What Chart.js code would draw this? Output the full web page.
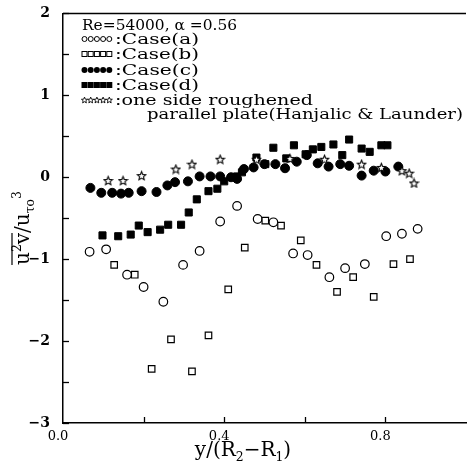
<!DOCTYPE html>
<html>
<head>
<meta charset="utf-8">
<script src="https://cdn.jsdelivr.net/npm/chart.js@4.4.1/dist/chart.umd.min.js"></script>
<style>
  html, body { margin: 0; padding: 0; background: #fff; }
  #wrap { width: 472px; height: 469px; }
</style>
</head>
<body>
<div id="wrap"><canvas id="chart"></canvas></div>
<script>
// data: y/(R2-R1) vs u2v/u_to^3
const caseAX = [0.066, 0.107, 0.159, 0.2, 0.249, 0.298, 0.339, 0.39, 0.432, 0.483, 0.522, 0.571, 0.607, 0.661, 0.70, 0.749, 0.802, 0.841, 0.88];
const caseAY = [-0.91, -0.88, -1.19, -1.34, -1.52, -1.07, -0.90, -0.54, -0.35, -0.51, -0.55, -0.93, -0.95, -1.22, -1.11, -1.06, -0.72, -0.69, -0.63];

const caseBX = [0.127, 0.178, 0.22, 0.268, 0.32, 0.361, 0.41, 0.451, 0.502, 0.541, 0.59, 0.629, 0.68, 0.72, 0.771, 0.82, 0.861];
const caseBY = [-1.07, -1.19, -2.34, -1.98, -2.37, -1.93, -1.37, -0.86, -0.53, -0.59, -0.77, -1.07, -1.40, -1.22, -1.46, -1.06, -1.0];

const caseCX = [0.068, 0.095, 0.122, 0.144, 0.163, 0.195, 0.232, 0.259, 0.278, 0.31, 0.339, 0.366, 0.39, 0.417, 0.432, 0.449, 0.473, 0.50, 0.527, 0.551, 0.58, 0.605, 0.632, 0.659, 0.688, 0.71, 0.741, 0.771, 0.80, 0.832];
const caseCY = [-0.13, -0.19, -0.19, -0.20, -0.19, -0.17, -0.18, -0.10, -0.06, -0.05, 0.01, 0.01, 0.01, 0.0, -0.02, 0.10, 0.12, 0.16, 0.16, 0.11, 0.19, 0.27, 0.17, 0.13, 0.16, 0.14, 0.02, 0.08, 0.07, 0.13];

const caseDX = [0.098, 0.137, 0.168, 0.188, 0.21, 0.241, 0.261, 0.293, 0.312, 0.332, 0.361, 0.383, 0.40, 0.432, 0.444, 0.48, 0.502, 0.522, 0.554, 0.573, 0.602, 0.62, 0.641, 0.671, 0.693, 0.71, 0.741, 0.761, 0.79, 0.805];
const caseDY = [-0.71, -0.72, -0.70, -0.59, -0.67, -0.64, -0.58, -0.58, -0.43, -0.27, -0.17, -0.14, -0.05, 0.01, 0.06, 0.24, 0.16, 0.36, 0.23, 0.39, 0.28, 0.34, 0.37, 0.40, 0.27, 0.46, 0.35, 0.31, 0.39, 0.39];

// Hanjalic & Launder, one side roughened parallel plate
const starX = [0.112, 0.149, 0.195, 0.28, 0.32, 0.39, 0.48, 0.563, 0.649, 0.741, 0.79, 0.841, 0.859, 0.871];
const starY = [-0.04, -0.04, 0.02, 0.10, 0.16, 0.22, 0.22, 0.23, 0.22, 0.16, 0.12, 0.08, 0.05, -0.07];

const xTickLabels = ['0.0', '0.4', '0.8'];
const yTickLabels = ['2', '1', '0', '\u22121', '\u22122', '\u22123'];

const legendHead = 'Re=54000, \u03b1 =0.56';
const legendLabels = [':Case(a)', ':Case(b)', ':Case(c)', ':Case(d)', ':one side roughened'];
const legendTail = 'parallel plate(Hanjalic & Launder)';

const SERIF = '"DejaVu Serif", "Liberation Serif", serif';

function pts(xs, ys) {
    return xs.map((x, i) => ({ x: x, y: ys[i] }));
}

// 5-point star drawn on a small canvas so chart.js can use it as a point style
function starPath(ctx, cx, cy, ro, ri) {
    ctx.beginPath();
    for (let i = 0; i < 10; i++) {
        const r = i % 2 === 0 ? ro : ri;
        const a = -Math.PI / 2 + i * Math.PI / 5;
        const px = cx + r * Math.cos(a), py = cy + r * Math.sin(a);
        if (i === 0) ctx.moveTo(px, py); else ctx.lineTo(px, py);
    }
    ctx.closePath();
}

function makeStar(size) {
    const c = document.createElement('canvas');
    c.width = size; c.height = size;
    const g = c.getContext('2d');
    starPath(g, size / 2, size / 2 + 0.5, size / 2 - 1, (size / 2 - 1) * 0.45);
    g.fillStyle = '#fff';
    g.fill();
    g.lineWidth = 1.1;
    g.strokeStyle = '#000';
    g.stroke();
    return c;
}
const starImg = makeStar(11);

// draws text stretched to a given width (the scan uses a wide typewriter-like serif)
function wideText(ctx, text, x, y, width) {
    const w = ctx.measureText(text).width;
    ctx.save();
    ctx.translate(x, y);
    ctx.scale(width / w, 1);
    ctx.fillText(text, 0, 0);
    ctx.restore();
}

function richText(ctx, parts, x, y, size) {
    // parts: [text, kind] kind: '' normal, 'sup', 'sub'
    let cx = x;
    parts.forEach(p => {
        const small = p[1] !== '';
        ctx.font = (small ? size * 0.62 : size) + 'px ' + SERIF;
        const dy = p[1] === 'sup' ? -size * 0.42 : (p[1] === 'sub' ? size * 0.25 : 0);
        ctx.fillText(p[0], cx, y + dy);
        cx += ctx.measureText(p[0]).width;
    });
    return cx - x;
}

function richWidth(ctx, parts, size) {
    let w = 0;
    parts.forEach(p => {
        ctx.font = (p[1] !== '' ? size * 0.62 : size) + 'px ' + SERIF;
        w += ctx.measureText(p[0]).width;
    });
    return w;
}

const decorPlugin = {
    id: 'decor',
    afterDraw(chart) {
        const ctx = chart.ctx;
        const area = chart.chartArea;
        const xs = chart.scales.x, ys = chart.scales.y;
        ctx.save();
        ctx.strokeStyle = '#000';
        ctx.fillStyle = '#000';

        // top frame line
        ctx.lineWidth = 1.5;
        ctx.beginPath();
        ctx.moveTo(area.left, area.top);
        ctx.lineTo(area.right, area.top);
        ctx.stroke();

        // inward ticks
        ctx.lineWidth = 1.3;
        for (let v = -3; v <= 2.001; v += 0.5) {
            const py = Math.round(ys.getPixelForValue(v)) + 0.5;
            ctx.beginPath();
            ctx.moveTo(area.left, py);
            ctx.lineTo(area.left + 6, py);
            ctx.stroke();
        }
        for (let v = 0.2; v <= 0.801; v += 0.2) {
            const px = Math.round(xs.getPixelForValue(v)) + 0.5;
            ctx.beginPath();
            ctx.moveTo(px, area.bottom);
            ctx.lineTo(px, area.bottom - 6);
            ctx.stroke();
        }

        // legend block
        ctx.textBaseline = 'alphabetic';
        ctx.textAlign = 'left';
        ctx.font = '14px ' + SERIF;
        wideText(ctx, legendHead, 82, 30, 155);
        const rowY = [39, 54, 70, 85, 100];
        rowY.forEach((ry, r) => {
            for (let i = 0; i < 5; i++) {
                const sx = 84.5 + i * 6.2;
                ctx.lineWidth = 1;
                if (r === 0) {
                    ctx.beginPath(); ctx.arc(sx, ry, 2.5, 0, Math.PI * 2); ctx.stroke();
                } else if (r === 1) {
                    ctx.strokeRect(sx - 2.5, ry - 2.5, 5, 5);
                } else if (r === 2) {
                    ctx.beginPath(); ctx.arc(sx, ry, 3, 0, Math.PI * 2); ctx.fill();
                } else if (r === 3) {
                    ctx.fillRect(sx - 3, ry - 3, 6, 6);
                } else {
                    starPath(ctx, sx, ry + 0.3, 3.2, 1.4);
                    ctx.lineWidth = 0.9;
                    ctx.stroke();
                }
            }
            ctx.font = '14px ' + SERIF;
            const target = r === 4 ? 198 : 84;
            wideText(ctx, legendLabels[r], 115, ry + 5, target);
        });
        wideText(ctx, legendTail, 147, 119, 316);

        // x title: y/(R2-R1)
        const xParts = [['y/(R', ''], ['2', 'sub'], ['\u2212R', ''], ['1', 'sub'], [')', '']];
        const xw = richWidth(ctx, xParts, 20);
        richText(ctx, xParts, 243 - xw / 2, 456, 20);

        // y title: overline(u2v) / u_to^3, rotated
        const yParts = [['u', ''], ['2', 'sup'], ['v', ''], ['/u', ''], ['\u03c4o', 'sub'], ['3', 'sup']];
        const yw = richWidth(ctx, yParts, 20);
        ctx.save();
        ctx.translate(29, 228);
        ctx.rotate(-Math.PI / 2);
        richText(ctx, yParts, -yw / 2, 0, 20);
        const ov = richWidth(ctx, yParts.slice(0, 3), 20);
        ctx.lineWidth = 1.2;
        ctx.beginPath();
        ctx.moveTo(-yw / 2, -17);
        ctx.lineTo(-yw / 2 + ov, -17);
        ctx.stroke();
        ctx.restore();

        ctx.restore();
    }
};

const openStyle = { borderColor: '#000', backgroundColor: '#fff', borderWidth: 1.2 };
const fillStyle = { borderColor: '#000', backgroundColor: '#000', borderWidth: 1 };

new Chart(document.getElementById('chart'), {
    type: 'scatter',
    data: {
        datasets: [
            Object.assign({ label: 'Case(a)', data: pts(caseAX, caseAY), pointStyle: 'circle', pointRadius: 4.3, order: 5 }, openStyle),
            Object.assign({ label: 'Case(b)', data: pts(caseBX, caseBY), pointStyle: 'rect', pointRadius: 4.6, order: 4 }, openStyle),
            Object.assign({ label: 'Case(c)', data: pts(caseCX, caseCY), pointStyle: 'circle', pointRadius: 4.5, order: 3 }, fillStyle),
            Object.assign({ label: 'Case(d)', data: pts(caseDX, caseDY), pointStyle: 'rect', pointRadius: 5, order: 2 }, fillStyle),
            { label: 'one side roughened', data: pts(starX, starY), pointStyle: starImg, order: 1 }
        ]
    },
    options: {
        responsive: true,
        maintainAspectRatio: false,
        animation: false,
        layout: { padding: { top: 11, right: 0, left: 0, bottom: 0 } },
        plugins: {
            legend: { display: false },
            tooltip: { enabled: false }
        },
        scales: {
            x: {
                type: 'linear',
                min: 0,
                max: 1.0,
                afterFit: s => { s.height = 46; },
                border: { display: true, color: '#000', width: 1.5 },
                grid: { display: false },
                ticks: {
                    stepSize: 0.2,
                    autoSkip: false,
                    maxRotation: 0,
                    padding: -2,
                    labelOffset: -5,
                    color: '#000',
                    font: { family: SERIF, size: 13 },
                    callback: v => {
                        const k = Math.round(v / 0.4 * 1000) / 1000;
                        return Number.isInteger(k) && k < xTickLabels.length ? xTickLabels[k] : '';
                    }
                }
            },
            y: {
                type: 'linear',
                min: -3,
                max: 2,
                afterFit: s => { s.width = 63; },
                border: { display: true, color: '#000', width: 1.5 },
                grid: { display: false },
                ticks: {
                    stepSize: 0.5,
                    autoSkip: false,
                    padding: 5,
                    color: '#000',
                    font: { family: SERIF, size: 14, weight: 'bold' },
                    callback: v => {
                        const k = Math.round(2 - v);
                        return Math.abs(2 - v - k) < 1e-6 ? yTickLabels[k] : '';
                    }
                }
            }
        }
    },
    plugins: [decorPlugin]
});
</script>
</body>
</html>
